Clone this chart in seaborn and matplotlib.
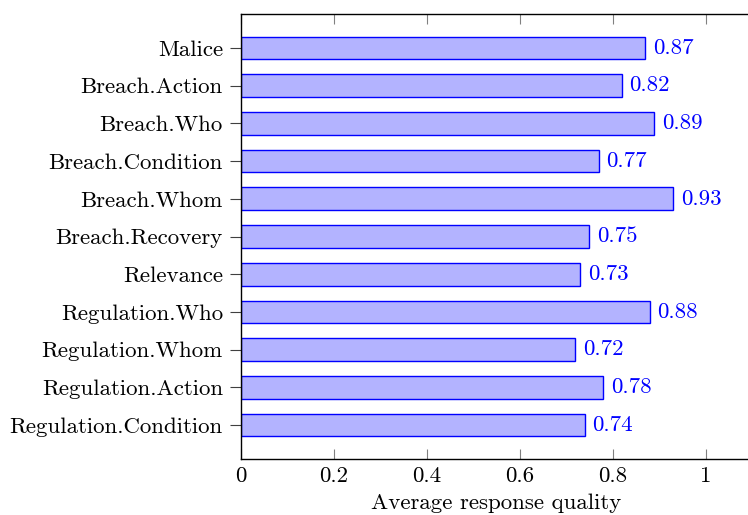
import matplotlib
matplotlib.use("Agg")
import matplotlib.pyplot as plt
import seaborn as sns
import pandas as pd
from matplotlib.ticker import FuncFormatter

categories = ["Malice", "Breach.Action", "Breach.Who", "Breach.Condition", "Breach.Whom",
              "Breach.Recovery", "Relevance", "Regulation.Who", "Regulation.Whom",
              "Regulation.Action", "Regulation.Condition"]
values = [0.87, 0.82, 0.89, 0.77, 0.93, 0.75, 0.73, 0.88, 0.72, 0.78, 0.74]
xticks = [0, 0.2, 0.4, 0.6, 0.8, 1]

sns.set_theme(style="white")
plt.rcParams['font.family'] = ['cmr10', 'DejaVu Serif']
plt.rcParams['axes.formatter.use_mathtext'] = True

FS = 16.5
W, H = 748, 515
fig = plt.figure(figsize=(W / 100, H / 100), dpi=100)
left, right, top, bottom = 241, 752, 14, 459
ax = fig.add_axes([left / W, 1 - bottom / H, (right - left) / W, (bottom - top) / H])

df = pd.DataFrame({"cat": categories, "val": values})
sns.barplot(data=df, x="val", y="cat", orient="h", color="#b3b3ff", saturation=1,
            edgecolor="#0000ff", linewidth=1.0, width=0.6, ax=ax)

for i, v in enumerate(values):
    ax.annotate(f"{v:.2f}", xy=(v, i), xytext=(5.5, 0), textcoords="offset points",
                ha="left", va="center", color="#0000ff", fontsize=FS)

ax.set_xlim(0, 1.1)
ax.set_ylim(len(categories) - 1 + 0.9, -0.9)
ax.set_xticks(xticks)
ax.xaxis.set_major_formatter(FuncFormatter(lambda x, p: f"{x:g}"))
ax.tick_params(axis="x", direction="in", length=7.5, width=0.8, color="#808080",
               top=True, bottom=True, labelsize=FS, pad=5.5, labelcolor="black")
ax.tick_params(axis="y", direction="out", length=8, width=0.8, color="#404040",
               left=True, labelsize=FS, pad=5, labelcolor="black")
ax.set_xlabel("Average response quality", fontsize=FS, labelpad=5.5, color="black")
ax.set_ylabel("")
for s in ax.spines.values():
    s.set_color("black")
    s.set_linewidth(1.0)
    s.set_visible(True)

fig.savefig("out.png", dpi=100)
